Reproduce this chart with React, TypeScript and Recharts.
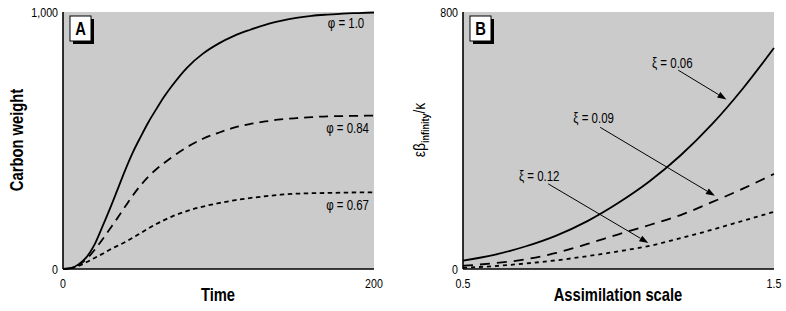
import React from 'react';
import { LineChart, Line, XAxis, YAxis, CartesianGrid, ReferenceLine, ReferenceDot } from 'recharts';

const FONT = "'Liberation Sans', Arial, sans-serif";
const NARROW = 0.82;

// Panel A: carbon weight over time
const timeValues = [0, 5, 10, 15, 20, 25, 30, 35, 40, 45, 50, 55, 60, 65, 70, 80, 90, 100, 110, 120, 130, 140, 150, 160, 170, 180, 190, 200];
const phi100 = [0, 3, 18, 45, 92, 160, 232, 308, 385, 455, 515, 572, 622, 670, 712, 785, 838, 877, 907, 930, 950, 965, 977, 985, 990, 994, 996, 998];
const phi084 = [0, 3, 16, 38, 72, 112, 155, 198, 243, 287, 326, 360, 388, 412, 435, 475, 507, 530, 550, 564, 574, 582, 587, 591, 594, 595, 596, 597];
const phi067 = [0, 3, 12, 26, 42, 58, 75, 90, 105, 122, 140, 158, 175, 190, 204, 226, 243, 256, 267, 276, 283, 289, 293, 295, 296, 297, 298, 298];
const timeTicks = [0, 200];
const weightTicks = [0, 1000];
const phiLabels = [
  { text: 'φ = 1.0', t: 182, w: 957 },
  { text: 'φ = 0.84', t: 183, w: 549 },
  { text: 'φ = 0.67', t: 183, w: 250 },
];

// Panel B: ratio vs assimilation scale
const scaleValues = [0.5, 0.6, 0.7, 0.8, 0.9, 1.0, 1.1, 1.2, 1.3, 1.4, 1.5];
const xi006 = [26, 44, 70, 104, 149, 206, 273, 354, 450, 562, 688];
const xi009 = [10, 18, 30, 50, 78, 108, 137, 168, 208, 250, 296];
const xi012 = [4, 9, 17, 27, 40, 55, 72, 96, 122, 150, 178];
const scaleTicks = [0.5, 1.5];
const ratioTicks = [0, 800];
const xiLabels = [
  { text: 'ξ = 0.06', a: 1.173, v: 642 },
  { text: 'ξ = 0.09', a: 0.92, v: 470 },
  { text: 'ξ = 0.12', a: 0.745, v: 290 },
];
const xiArrows = [
  { from: [1.192, 619], to: [1.347, 528] },
  { from: [0.941, 441], to: [1.31, 228] },
  { from: [0.774, 265], to: [1.096, 81] },
];

const axisLineStyle = { stroke: '#000', strokeWidth: 1.6 };
const BG = '#cbcbcb';

const NText = ({ x, y, anchor = 'middle', size = 13, bold = false, rotate = 0, dy, children }: any) => (
  <text
    transform={`translate(${x},${y}) rotate(${rotate}) scale(${NARROW},1)`}
    textAnchor={anchor}
    dy={dy}
    fontFamily={FONT}
    fontSize={size}
    fontWeight={bold ? 'bold' : 'normal'}
    fill="#000"
  >
    {children}
  </text>
);

const xTick = (fmt: (v: number) => string) => (props: any) => (
  <NText x={props.x} y={props.y} anchor="middle" size={13} dy="0.71em">
    {fmt(props.payload.value)}
  </NText>
);
const yTick = (fmt: (v: number) => string) => (props: any) => (
  <NText x={props.x} y={props.y} anchor="end" size={13} dy="0.355em">
    {fmt(props.payload.value)}
  </NText>
);

const arrowShape = (props: any) => {
  const { x1, y1, x2, y2 } = props;
  const ang = Math.atan2(y2 - y1, x2 - x1);
  const L = 9;
  const W = 3.2;
  const c = Math.cos(ang);
  const s = Math.sin(ang);
  const bx = x2 - L * c;
  const by = y2 - L * s;
  const pts = `${x2},${y2} ${bx - W * s},${by + W * c} ${bx + W * s},${by - W * c}`;
  return (
    <g>
      <line x1={x1} y1={y1} x2={bx} y2={by} stroke="#000" strokeWidth={1} />
      <polygon points={pts} fill="#000" />
    </g>
  );
};

const textShape = (text: string) => (props: any) => (
  <NText x={props.cx} y={props.cy} anchor="middle" size={14} dy="0.35em">
    {text}
  </NText>
);

const PanelBox = ({ x, y, letter }: { x: number; y: number; letter: string }) => (
  <g>
    <rect x={x + 3} y={y + 3} width={21} height={25} fill="#000" />
    <rect x={x} y={y} width={21} height={25} fill="#fff" stroke="#000" strokeWidth={1} />
    <NText x={x + 10.5} y={y + 12.5} anchor="middle" size={18} bold dy="0.36em">
      {letter}
    </NText>
  </g>
);

function PanelA() {
  const data = timeValues.map((t, i) => ({ t, a: phi100[i], b: phi084[i], c: phi067[i] }));
  return (
    <LineChart width={390} height={311} data={data} margin={{ top: 12, right: 16, bottom: 12, left: 13 }}>
      <CartesianGrid fill={BG} horizontal={false} vertical={false} stroke="none" />
      <XAxis
        dataKey="t"
        type="number"
        domain={[0, 200]}
        ticks={timeTicks}
        interval={0}
        tickLine={false}
        axisLine={axisLineStyle}
        height={30}
        tickMargin={4}
        tick={xTick((v) => String(v))}
      />
      <YAxis
        type="number"
        domain={[0, 1000]}
        ticks={weightTicks}
        interval={0}
        tickLine={false}
        axisLine={axisLineStyle}
        width={50}
        tickSize={4}
        tickMargin={1}
        tick={yTick((v) => (v === 1000 ? '1,000' : String(v)))}
      />
      <Line dataKey="a" type="monotone" stroke="#000" strokeWidth={1.8} dot={false} isAnimationActive={false} />
      <Line dataKey="b" type="monotone" stroke="#000" strokeWidth={1.8} strokeDasharray="9 6" dot={false} isAnimationActive={false} />
      <Line dataKey="c" type="monotone" stroke="#000" strokeWidth={1.8} strokeDasharray="4.5 3.5" dot={false} isAnimationActive={false} />
      {phiLabels.map((l) => (
        <ReferenceDot key={l.text} x={l.t} y={l.w} r={1} shape={textShape(l.text)} />
      ))}
    </LineChart>
  );
}

function PanelB() {
  const data = scaleValues.map((s, i) => ({ s, a: xi006[i], b: xi009[i], c: xi012[i] }));
  return (
    <LineChart width={390} height={311} data={data} margin={{ top: 12, right: 16, bottom: 12, left: 13 }}>
      <CartesianGrid fill={BG} horizontal={false} vertical={false} stroke="none" />
      <XAxis
        dataKey="s"
        type="number"
        domain={[0.5, 1.5]}
        ticks={scaleTicks}
        interval={0}
        tickLine={false}
        axisLine={axisLineStyle}
        height={30}
        tickMargin={4}
        tick={xTick((v) => v.toFixed(1))}
      />
      <YAxis
        type="number"
        domain={[0, 800]}
        ticks={ratioTicks}
        interval={0}
        tickLine={false}
        axisLine={axisLineStyle}
        width={50}
        tickSize={4}
        tickMargin={1}
        tick={yTick((v) => String(v))}
      />
      <Line dataKey="a" type="monotone" stroke="#000" strokeWidth={1.8} dot={false} isAnimationActive={false} />
      <Line dataKey="b" type="monotone" stroke="#000" strokeWidth={1.8} strokeDasharray="10 7" dot={false} isAnimationActive={false} />
      <Line dataKey="c" type="monotone" stroke="#000" strokeWidth={1.8} strokeDasharray="4 4" dot={false} isAnimationActive={false} />
      {xiArrows.map((ar, i) => (
        <ReferenceLine
          key={'ar' + i}
          segment={[
            { x: ar.from[0], y: ar.from[1] },
            { x: ar.to[0], y: ar.to[1] },
          ]}
          shape={arrowShape}
        />
      ))}
      {xiLabels.map((l) => (
        <ReferenceDot key={l.text} x={l.a} y={l.v} r={1} shape={textShape(l.text)} />
      ))}
    </LineChart>
  );
}

export default function App() {
  return (
    <div style={{ position: 'absolute', left: 0, top: 0, width: 786, height: 311, overflow: 'hidden', background: '#fff' }}>
      <div style={{ position: 'absolute', left: 0, top: 0 }}>
        <PanelA />
      </div>
      <div style={{ position: 'absolute', left: 400, top: 0 }}>
        <PanelB />
      </div>
      <svg width={786} height={311} style={{ position: 'absolute', left: 0, top: 0, pointerEvents: 'none' }}>
        <PanelBox x={70} y={16} letter="A" />
        <PanelBox x={470} y={16} letter="B" />
        <NText x={218} y={295} size={18} bold dy="0.36em">
          Time
        </NText>
        <NText x={618} y={295} size={18} bold dy="0.36em">
          Assimilation scale
        </NText>
        <NText x={17} y={140} size={18} bold rotate={-90} dy="0.36em">
          Carbon weight
        </NText>
        <text
          transform={`translate(425,130) rotate(-90) scale(${NARROW},1)`}
          textAnchor="middle"
          fontFamily={FONT}
          fontSize={17}
          fill="#000"
        >
          <tspan>εβ</tspan>
          <tspan fontSize={11} fontWeight="bold" dy={4}>infinity</tspan>
          <tspan dy={-4}>/κ</tspan>
        </text>
      </svg>
    </div>
  );
}
